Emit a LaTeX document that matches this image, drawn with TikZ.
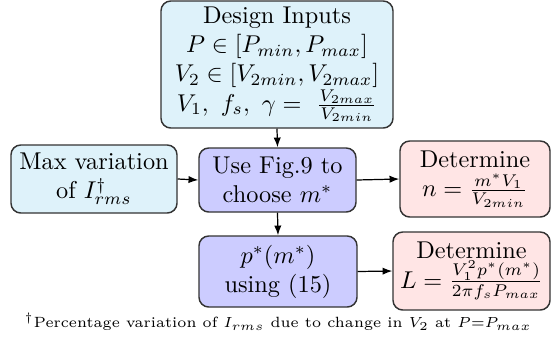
\documentclass[tikz,border=0pt]{standalone}
\usetikzlibrary{arrows.meta}
\definecolor{inblue}{RGB}{222,242,250}
\definecolor{midblue}{RGB}{204,204,255}
\definecolor{outpink}{RGB}{255,229,229}
\begin{document}
\begin{tikzpicture}[x=0.4115pt,y=-0.4115pt,
  box/.style={draw=black!80, line width=0.6pt, rounded corners=4pt, align=center, inner sep=0pt},
  conn/.style={-{Latex[length=4pt,width=3pt]}, line width=0.5pt}]
\useasboundingbox (0,0) rectangle (556,339);
\node[box, fill=inblue, minimum width=232*0.4115pt, minimum height=127*0.4115pt] (design) at (277,64.5)
  {Design Inputs\\ $P \in [P_{min}, P_{max}]$\\ $V_2 \in [V_{2min}, V_{2max}]$\\ $V_1,\ f_s,\ \gamma =\ \frac{V_{2max}}{V_{2min}}$};
\node[box, fill=inblue, minimum width=166*0.4115pt, minimum height=68*0.4115pt] (maxv) at (94,179)
  {Max variation\\ of $I^{\dagger}_{rms}$};
\node[box, fill=midblue, minimum width=157*0.4115pt, minimum height=64*0.4115pt] (usefig) at (277.5,180)
  {Use Fig.9 to\\ choose $m^*$};
\node[box, fill=outpink, minimum width=150*0.4115pt, minimum height=76*0.4115pt] (detn) at (475,179)
  {Determine\\ $n = \frac{m^* V_1}{V_{2min}}$};
\node[box, fill=midblue, minimum width=158*0.4115pt, minimum height=71*0.4115pt] (pstar) at (278,271.5)
  {$p^*(m^*)$\\ using (15)};
\node[box, fill=outpink, minimum width=157*0.4115pt, minimum height=78*0.4115pt] (detL) at (471.5,271)
  {Determine\\ $L = \frac{V_1^2 p^*(m^*)}{2\pi f_s P_{max}}$};
\node[inner sep=0pt] (note) at (278,322)
  {\fontsize{6.1}{7}\selectfont $^{\dagger}$Percentage variation of $I_{rms}$ due to change in $V_2$ at $P{=}P_{max}$};
\draw[conn] (design.south) -- (usefig.north);
\draw[conn] (maxv.east) -- (usefig.west);
\draw[conn] (usefig.east) -- (detn.west);
\draw[conn] (usefig.south) -- (pstar.north);
\draw[conn] (pstar.east) -- (detL.west);
\end{tikzpicture}
\end{document}
